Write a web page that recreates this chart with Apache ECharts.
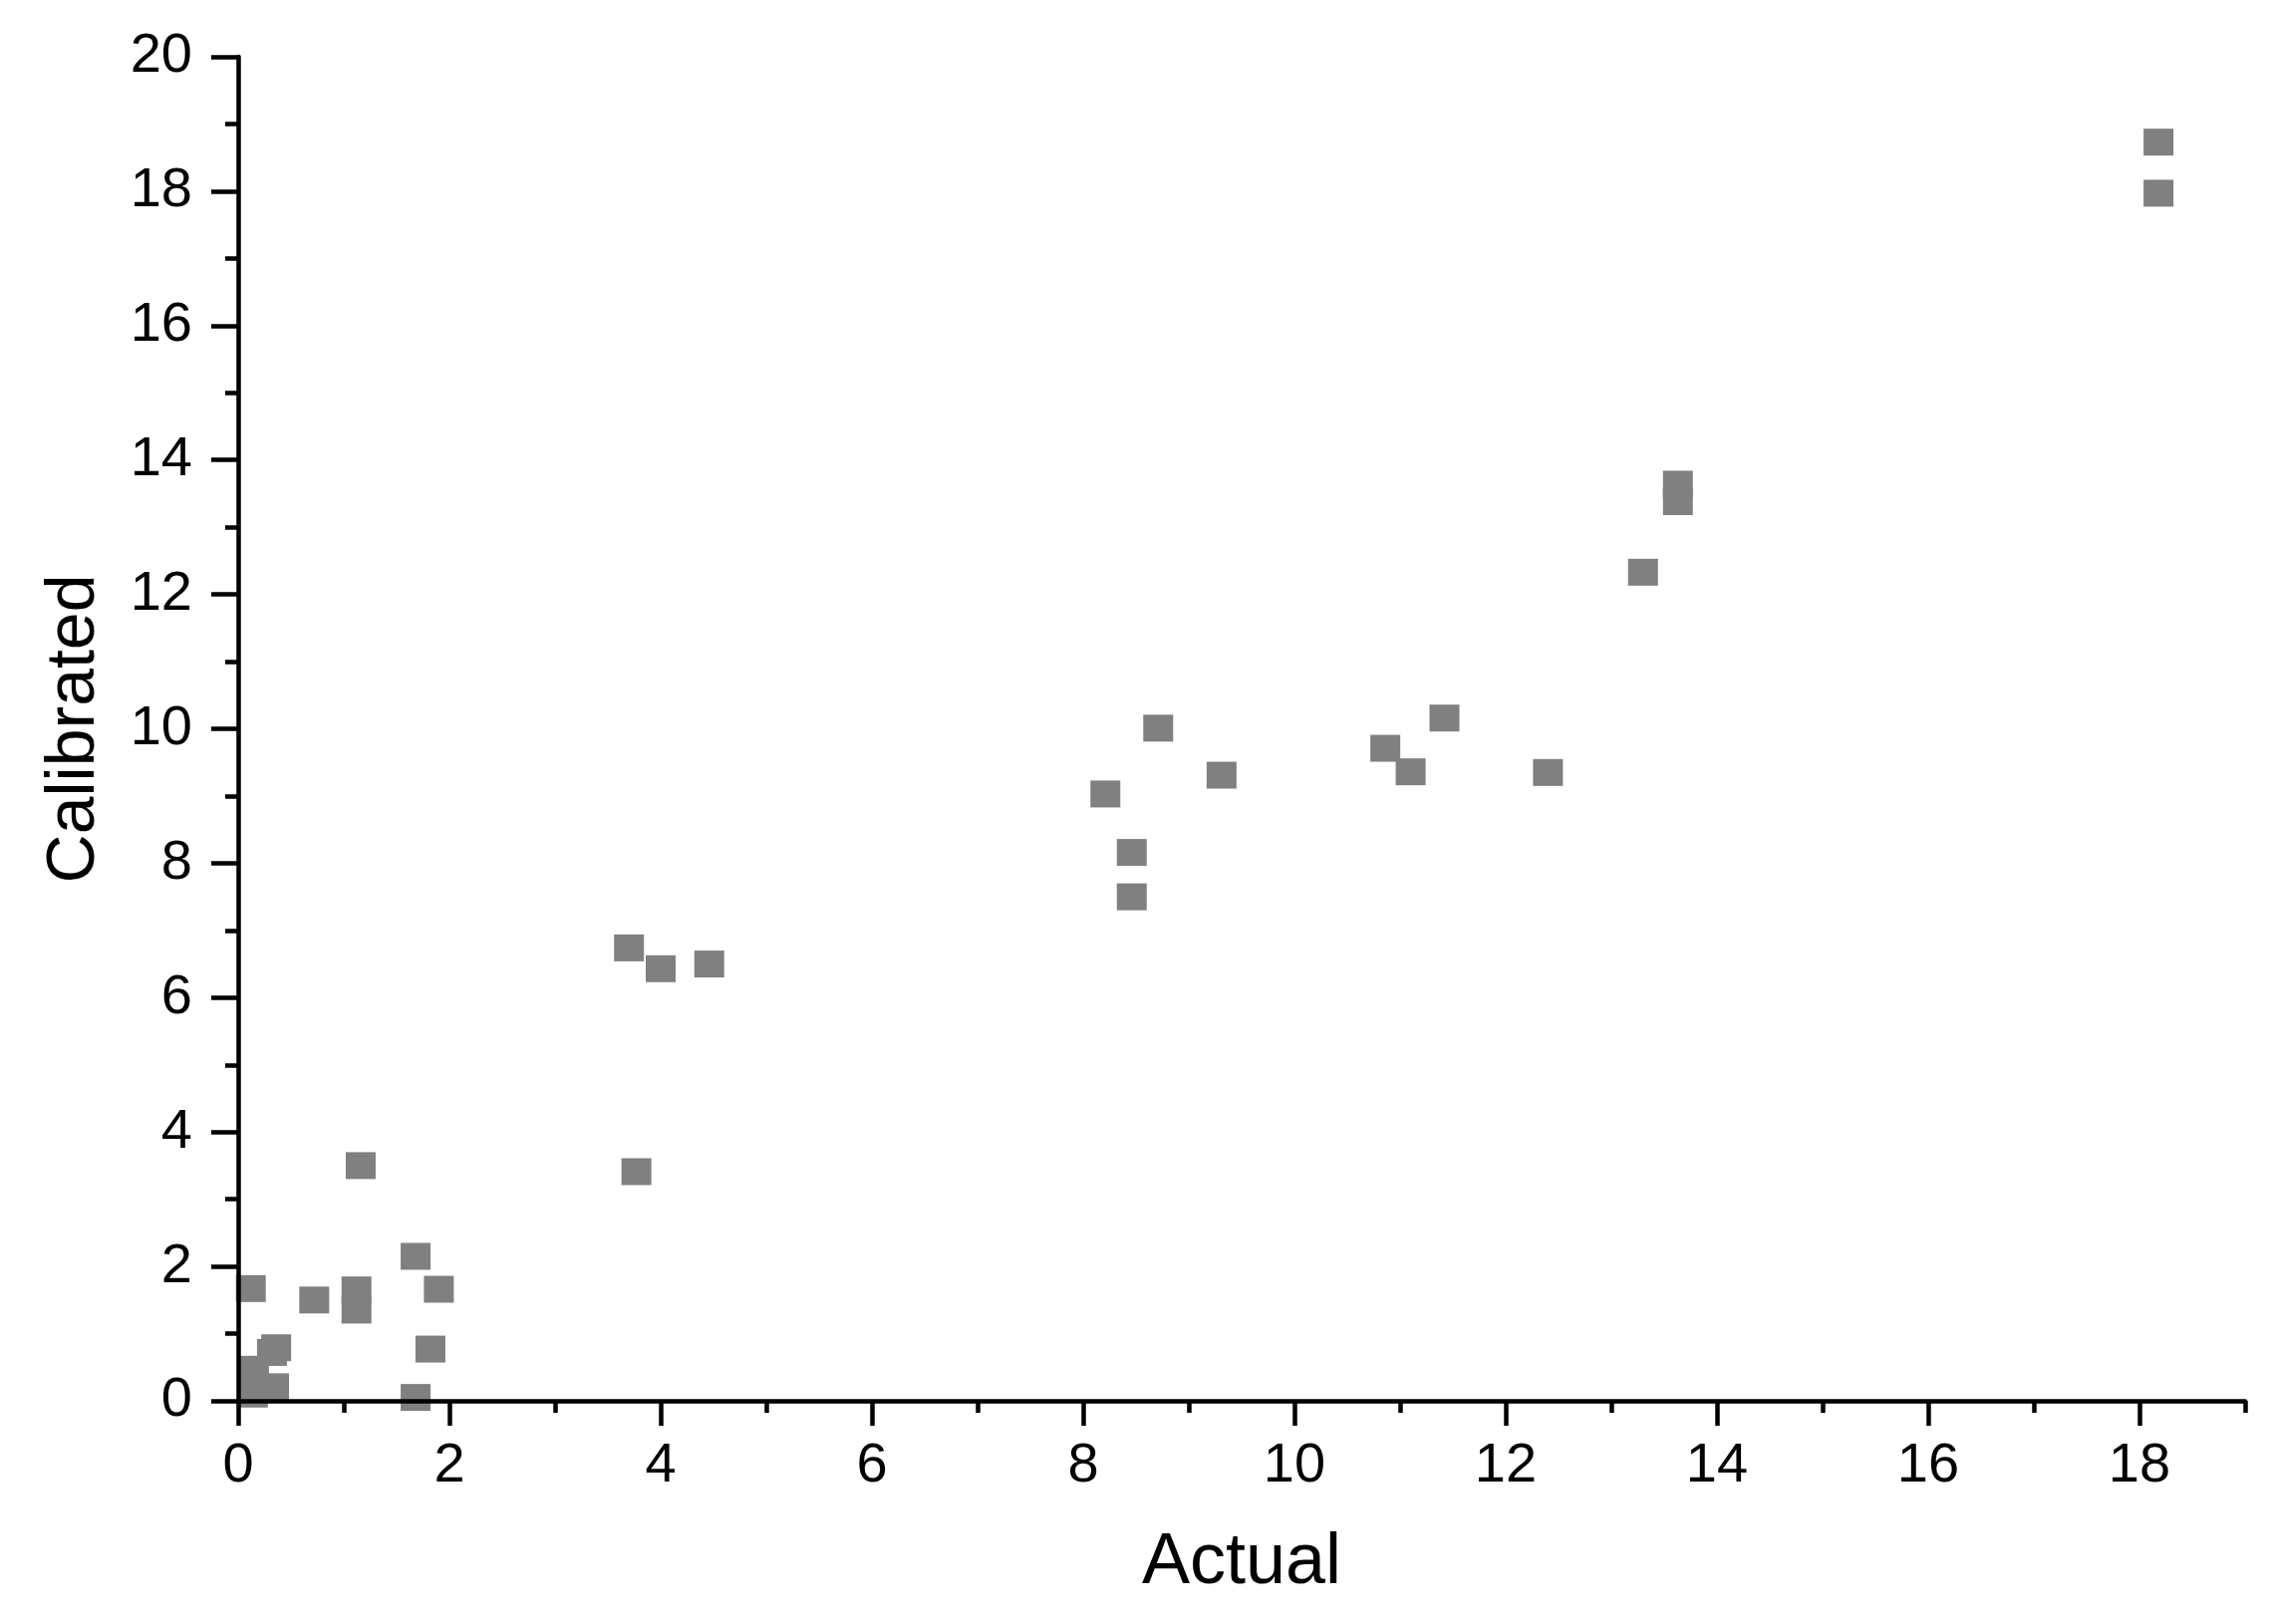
<!DOCTYPE html>
<html>
<head>
<meta charset="utf-8">
<style>
    html, body { margin: 0; padding: 0; background: #fff; }
    #scatter { width: 2285px; height: 1630px; }
</style>
<script src="https://cdn.jsdelivr.net/npm/echarts@6/dist/echarts.min.js"></script>
</head>
<body>
<div id="scatter"></div>
<script>
    // data
    var actual = [18.18, 18.18, 13.63, 13.63, 13.30, 8.71, 8.21, 9.31, 8.46, 8.46,
                  10.86, 11.10, 11.42, 12.40, 3.70, 4.00, 4.46, 3.77, 1.16, 1.68,
                  1.90, 1.82, 1.68, 0.72, 1.12, 1.12, 0.12, 0.36, 0.32, 0.15,
                  0.14, 0.34];
    var calibrated = [18.73, 17.97, 13.64, 13.38, 12.33, 10.01, 9.03, 9.31, 8.16, 7.50,
                      9.71, 9.36, 10.16, 9.35, 6.74, 6.43, 6.50, 3.41, 3.50, 2.15,
                      1.66, 0.77, 0.05, 1.50, 1.65, 1.35, 1.67, 0.79, 0.72, 0.47,
                      0.10, 0.21];

    // tick values
    var xMajorTicks = [0, 2, 4, 6, 8, 10, 12, 14, 16, 18];
    var xMinorTicks = [1, 3, 5, 7, 9, 11, 13, 15, 17, 19];
    var yMajorTicks = [0, 2, 4, 6, 8, 10, 12, 14, 16, 18, 20];
    var yMinorTicks = [1, 3, 5, 7, 9, 11, 13, 15, 17, 19];

    var points = [];
    for (var i = 0; i < actual.length; i++) {
        points.push([actual[i], calibrated[i]]);
    }

    var axisStyle = { color: '#000', width: 4.5 };

    var myChart = echarts.init(document.getElementById('scatter'));
    myChart.setOption({
        animation: false,
        backgroundColor: '#fff',
        textStyle: { fontFamily: '"Liberation Sans", Arial, sans-serif', color: '#000' },
        grid: {
            left: 239,
            right: 32,
            top: 57,
            bottom: 224,
            containLabel: false,
            outerBoundsMode: 'none'
        },
        xAxis: [
            {
                type: 'value',
                min: 0,
                max: 19,
                z: 5,
                splitLine: { show: false },
                axisLine: { lineStyle: axisStyle },
                axisTick: { length: 25, lineStyle: axisStyle, customValues: xMajorTicks },
                axisLabel: { customValues: xMajorTicks, margin: 38, fontSize: 56, color: '#000' },
                name: 'Actual',
                nameLocation: 'middle',
                nameGap: 127,
                nameTextStyle: { fontSize: 72, color: '#000' }
            },
            {
                // minor ticks
                type: 'value',
                position: 'bottom',
                min: 0,
                max: 19,
                z: 5,
                splitLine: { show: false },
                axisLine: { show: false },
                axisTick: { length: 12, lineStyle: axisStyle, customValues: xMinorTicks },
                axisLabel: { show: false }
            }
        ],
        yAxis: [
            {
                type: 'value',
                min: 0,
                max: 20,
                z: 5,
                splitLine: { show: false },
                axisLine: { lineStyle: axisStyle },
                axisTick: { length: 27, lineStyle: axisStyle, customValues: yMajorTicks },
                axisLabel: { customValues: yMajorTicks, margin: 46, fontSize: 56, color: '#000' },
                name: 'Calibrated',
                nameLocation: 'middle',
                nameGap: 130,
                nameTextStyle: { fontSize: 68, color: '#000' }
            },
            {
                // minor ticks
                type: 'value',
                position: 'left',
                min: 0,
                max: 20,
                z: 5,
                splitLine: { show: false },
                axisLine: { show: false },
                axisTick: { length: 13, lineStyle: axisStyle, customValues: yMinorTicks },
                axisLabel: { show: false }
            }
        ],
        series: [
            {
                type: 'scatter',
                name: 'Calibrated',
                symbol: 'rect',
                symbolSize: [30, 27],
                itemStyle: { color: '#808080', opacity: 1 },
                data: points
            }
        ]
    });
</script>
</body>
</html>
